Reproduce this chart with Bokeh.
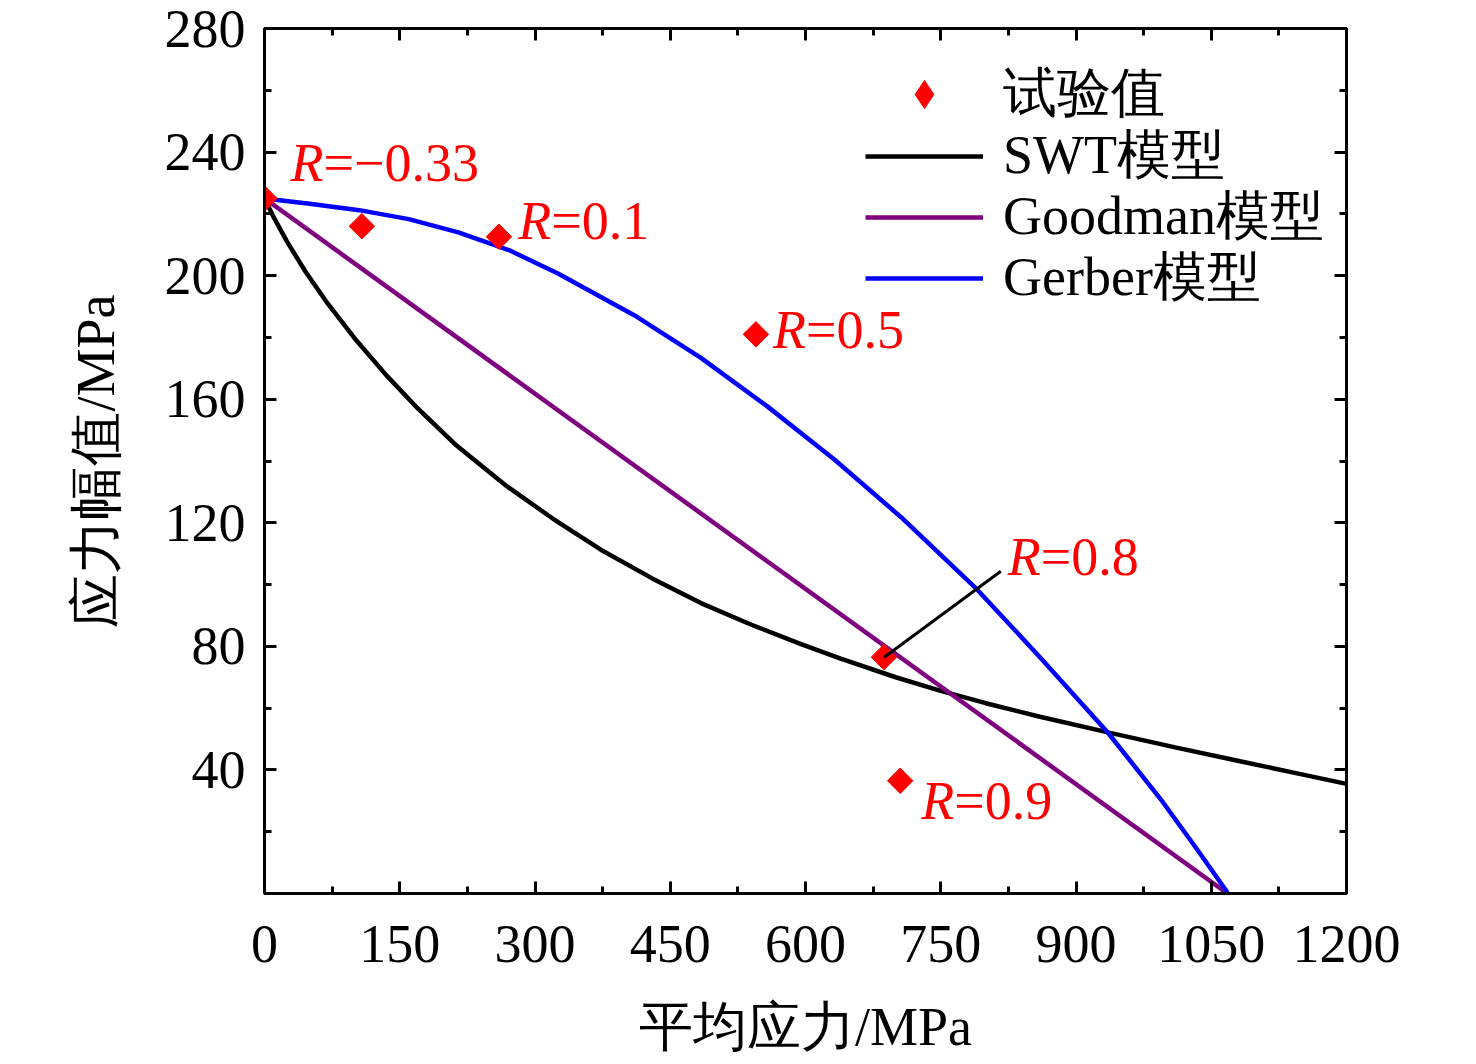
from math import pi
from bokeh.plotting import figure
from bokeh.models import (Range1d, FixedTicker, LinearAxis, Legend, LegendItem,
                          CustomLabelingPolicy)
from bokeh.core.properties import value
from bokeh.embed import file_html
from bokeh.resources import INLINE

FONT = "Liberation Serif, Noto Sans CJK SC"
SERIF = "Liberation Serif"

# ---- data ----
test_x = [0, 108, 260, 545, 687, 705]
test_y = [225, 216, 212.6, 181, 76.5, 36.5]

swt_x = [0, 10, 25, 45, 70, 102, 135, 170, 213, 268, 320, 373, 430, 484, 540, 595,
         639, 700, 750, 800, 860, 938, 1010, 1082, 1140, 1200]
swt_y = [225, 219, 211, 201.5, 191, 179, 167.8, 157, 145, 132, 121.3, 111.3, 102, 94, 87, 80.7,
         76, 70, 65.6, 61.6, 57.2, 52, 47.3, 42.8, 39.2, 35.5]

goodman_x = [0, 1068]
goodman_y = [225, 0]

gerber_x = [0, 50, 105, 160, 215, 271, 326, 410, 484, 558, 632, 706, 790, 860, 935, 994, 1035, 1068]
gerber_y = [225, 223.3, 221.2, 218.3, 214, 208.3, 200.6, 187.2, 173.4, 157.6, 140.5, 121.8,
            98.5, 76.5, 52.2, 30.5, 14, 0.3]

x_ticks = [0, 150, 300, 450, 600, 750, 900, 1050, 1200]
x_minor = [75, 225, 375, 525, 675, 825, 975, 1125]
y_ticks = [40, 80, 120, 160, 200, 240, 280]
y_minor = [20, 60, 100, 140, 180, 220, 260]

legend_labels = ["试验值", "SWT模型", "Goodman模型", "Gerber模型"]

# R labels (anchor = start of "=" part)
lab_x = [65.4, 318, 600.6, 861, 765]
lab_y = [236.5, 217.8, 182.3, 109, 30.1]
lab_rest = ["=\u22120.33", "=0.1", "=0.5", "=0.8", "=0.9"]

lead_x0, lead_y0, lead_x1, lead_y1 = [687.3], [76.5], [816.6], [104.3]

p = figure(width=1460, height=1060, x_range=Range1d(0, 1200), y_range=Range1d(0, 280),
           output_backend="svg", toolbar_location=None,
           min_border_left=264, min_border_right=114, min_border_top=28, min_border_bottom=167)
p.xgrid.grid_line_color = None
p.ygrid.grid_line_color = None
p.outline_line_color = "black"
p.outline_line_width = 3
p.background_fill_color = "white"
p.border_fill_color = "white"


def style_axis(ax, ticks, minor, show):
    ax.ticker = FixedTicker(ticks=ticks, minor_ticks=minor)
    ax.axis_line_width = 3
    ax.axis_line_color = "black"
    ax.major_tick_line_width = 3
    ax.minor_tick_line_width = 3
    ax.major_tick_in = 12
    ax.major_tick_out = 0
    ax.minor_tick_in = 7
    ax.minor_tick_out = 0
    ax.major_label_text_font = SERIF
    ax.major_label_text_color = "black"
    if show:
        ax.major_label_text_font_size = "54px"
    else:
        ax.major_label_text_font_size = "1px"
        ax.major_label_standoff = 0
        ax.major_label_policy = CustomLabelingPolicy(
            code="return new indices.constructor(indices.size)")


style_axis(p.xaxis[0], x_ticks, x_minor, True)
style_axis(p.yaxis[0], y_ticks, y_minor, True)
p.xaxis.major_label_standoff = 32
p.yaxis.major_label_standoff = 19

p.xaxis.axis_label = "平均应力/MPa"
p.yaxis.axis_label = "应力幅值/MPa"
for ax in (p.xaxis[0], p.yaxis[0]):
    ax.axis_label_text_font = SERIF
    ax.axis_label_text_font_size = "54px"
    ax.axis_label_text_font_style = "normal"
    ax.axis_label_text_color = "black"
p.xaxis.axis_label_standoff = 32
p.yaxis.axis_label_standoff = 36

top_ax = LinearAxis()
right_ax = LinearAxis()
style_axis(top_ax, x_ticks, x_minor, False)
style_axis(right_ax, y_ticks, y_minor, False)
p.add_layout(top_ax, "above")
p.add_layout(right_ax, "right")

# curves
r_swt = p.line(swt_x, swt_y, line_color="black", line_width=4.5)
r_good = p.line(goodman_x, goodman_y, line_color="#7F007F", line_width=4.5)
r_ger = p.line(gerber_x, gerber_y, line_color="#0000FF", line_width=4.5)

# test points: a diamond layer (used as legend key) hidden under rotated squares
r_key = p.scatter(test_x, test_y, marker="diamond", size=24,
                  fill_color="#FF0000", line_color="#FF0000")
r_pts = p.scatter(test_x, test_y, marker="square", angle=pi / 4, size=18,
                  fill_color="#FF0000", line_color="#FF0000")

# leader line
p.segment(x0=lead_x0, y0=lead_y0, x1=lead_x1, y1=lead_y1, line_color="black", line_width=3)

# labels
p.text(x=lab_x, y=lab_y, text=["R"] * len(lab_x), text_font=value(SERIF),
       text_font_style="italic", text_font_size="54px", text_color="#FF0000",
       text_align="right", text_baseline="alphabetic")
p.text(x=lab_x, y=lab_y, text=lab_rest, text_font=value(SERIF),
       text_font_size="54px", text_color="#FF0000",
       text_align="left", text_baseline="alphabetic")

# one legend per row so that the row pitch follows the reference
legend_rows = [(legend_labels[0], r_key, 763), (legend_labels[1], r_swt, 701),
               (legend_labels[2], r_good, 640), (legend_labels[3], r_ger, 579)]
for lbl, rend, ypos in legend_rows:
    lg = Legend(items=[LegendItem(label=lbl, renderers=[rend])],
                location=(601, ypos), border_line_color=None, background_fill_alpha=0,
                padding=0, margin=0, spacing=0, glyph_width=118, glyph_height=70,
                label_standoff=20, label_height=40, label_text_font=SERIF,
                label_text_font_size="54px", label_text_color="black")
    p.add_layout(lg)

open("out.html", "w").write(file_html(p, INLINE))
